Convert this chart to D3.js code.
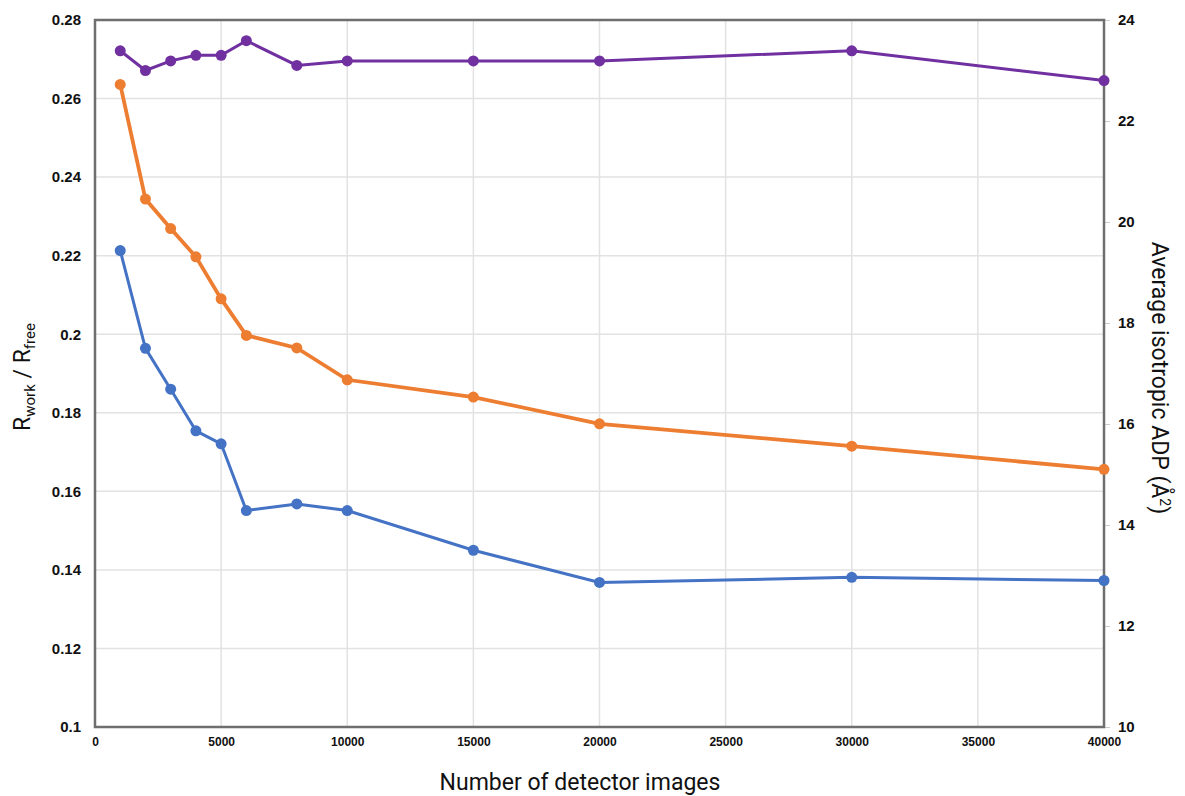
<!doctype html>
<html lang="en">
  <head>
    <meta charset="utf-8">
    <title>R factors and ADP vs number of detector images</title>
    <script src="https://d3js.org/d3.v7.min.js"></script>
    <style>
      body { margin: 0; background: #fff; }
      .tick text { font-family: "Liberation Sans", Arial, sans-serif; font-weight: bold; fill: #111; }
      .title { font-family: Roboto, "Liberation Sans", sans-serif; fill: #111; }
    </style>
  </head>
  <body>
    <svg id="chart" width="1185" height="796"></svg>
    <script>
// data
var images = [1000, 2000, 3000, 4000, 5000, 6000, 8000, 10000, 15000, 20000, 30000, 40000];
var rwork  = [0.2213, 0.1964, 0.1860, 0.1754, 0.1721, 0.1551, 0.1568, 0.1551, 0.1450, 0.1368, 0.1381, 0.1373];
var rfree  = [0.2636, 0.2344, 0.2269, 0.2197, 0.2090, 0.1997, 0.1965, 0.1884, 0.1840, 0.1772, 0.1715, 0.1656];
var adp    = [23.39, 23.00, 23.19, 23.30, 23.30, 23.59, 23.10, 23.19, 23.19, 23.19, 23.39, 22.80];
var xTicks = [0, 5000, 10000, 15000, 20000, 25000, 30000, 35000, 40000];
var yLeftTicks = [0.1, 0.12, 0.14, 0.16, 0.18, 0.2, 0.22, 0.24, 0.26, 0.28];
var yRightTicks = [10, 12, 14, 16, 18, 20, 22, 24];

var plotL = 95, plotR = 1104, plotT = 20, plotB = 727;
var svg = d3.select("#chart");

var x = d3.scaleLinear().domain([0, 40000]).range([plotL, plotR]);
var yL = d3.scaleLinear().domain([0.1, 0.28]).range([plotB, plotT]);
var yR = d3.scaleLinear().domain([10, 24]).range([plotB, plotT]);

// grid
svg.append("g").selectAll("line").data(yLeftTicks).enter().append("line")
  .attr("x1", plotL).attr("x2", plotR)
  .attr("y1", d => yL(d)).attr("y2", d => yL(d))
  .attr("stroke", "#e2e2e2").attr("stroke-width", 1.5);
svg.append("g").selectAll("line").data(xTicks).enter().append("line")
  .attr("x1", d => x(d)).attr("x2", d => x(d))
  .attr("y1", plotT).attr("y2", plotB)
  .attr("stroke", "#e2e2e2").attr("stroke-width", 1.5);

// axes
var gx = svg.append("g").attr("transform", "translate(0," + plotB + ")")
  .call(d3.axisBottom(x).tickValues(xTicks).tickSize(0).tickPadding(10).tickFormat(d3.format("d")));
gx.select(".domain").remove();
gx.selectAll("text").style("font-size", "12px");

var gl = svg.append("g").attr("transform", "translate(" + plotL + ",0)")
  .call(d3.axisLeft(yL).tickValues(yLeftTicks).tickSize(0).tickPadding(14).tickFormat(d => String(+d.toFixed(2))));
gl.select(".domain").remove();
gl.selectAll("text").style("font-size", "15px");

var gr = svg.append("g").attr("transform", "translate(" + plotR + ",0)")
  .call(d3.axisRight(yR).tickValues(yRightTicks).tickSize(6).tickPadding(8));
gr.select(".domain").remove();
gr.selectAll("line").attr("stroke", "#ccc");
gr.selectAll("text").style("font-size", "15px");

// frame
svg.append("rect").attr("x", plotL).attr("y", plotT)
  .attr("width", plotR - plotL).attr("height", plotB - plotT)
  .attr("fill", "none").attr("stroke", "#6e6e6e").attr("stroke-width", 2.5);

// series
var series = [
  {vals: rwork, y: yL, color: "#4472c4", w: 3},
  {vals: rfree, y: yL, color: "#ed7d31", w: 3.8},
  {vals: adp, y: yR, color: "#7030a0", w: 3}
];
series.forEach(function(s) {
  var pts = images.map((d, i) => [d, s.vals[i]]);
  svg.append("path").datum(pts)
    .attr("fill", "none").attr("stroke", s.color).attr("stroke-width", s.w)
    .attr("d", d3.line().x(d => x(d[0])).y(d => s.y(d[1])));
  svg.append("g").selectAll("circle").data(pts).enter().append("circle")
    .attr("cx", d => x(d[0])).attr("cy", d => s.y(d[1])).attr("r", 5.5)
    .attr("fill", s.color);
});

// titles
svg.append("text").attr("class", "title")
  .attr("x", 580).attr("y", 790).attr("text-anchor", "middle")
  .style("font-size", "23px").text("Number of detector images");

var lt = svg.append("text").attr("class", "title")
  .attr("transform", "translate(30,377) rotate(-90)").attr("text-anchor", "middle")
  .style("font-size", "23px");
lt.append("tspan").text("R");
lt.append("tspan").attr("dy", 5).style("font-size", "15px").text("work");
lt.append("tspan").attr("dy", -5).text(" / R");
lt.append("tspan").attr("dy", 5).style("font-size", "15px").text("free");

var rt = svg.append("text").attr("class", "title")
  .attr("transform", "translate(1152,378) rotate(90)").attr("text-anchor", "middle")
  .style("font-size", "23px");
rt.append("tspan").text("Average isotropic ADP (Å");
rt.append("tspan").attr("dy", -8).style("font-size", "14px").text("2");
rt.append("tspan").attr("dy", 8).text(")");
    </script>
  </body>
</html>
